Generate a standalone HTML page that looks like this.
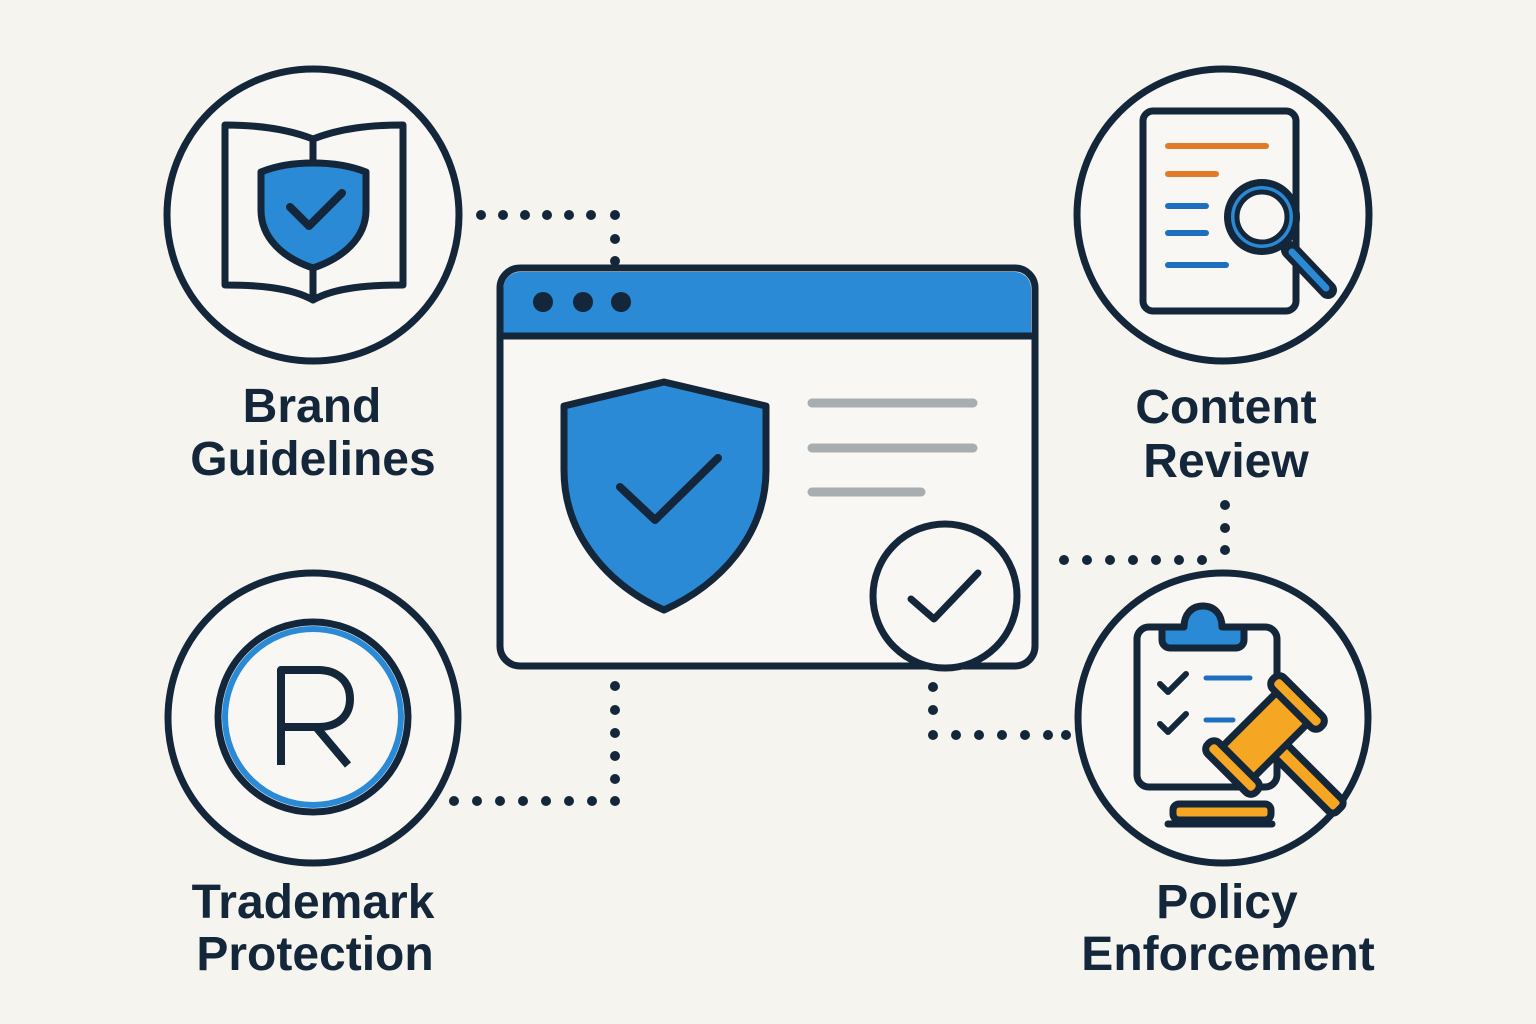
<!DOCTYPE html>
<html><head><meta charset="utf-8"><style>
html,body{margin:0;padding:0;background:#f6f4ef;}
svg{display:block}
text{font-family:"Liberation Sans",sans-serif;font-weight:bold;fill:#13263a;}
</style></head><body>
<svg width="1536" height="1024" viewBox="0 0 1536 1024">
<rect width="1536" height="1024" fill="#f6f4ef"/>
<g fill="#13263a">
<!-- brand connector -->
<g id="d">
<circle cx="481" cy="215" r="5"/><circle cx="503" cy="215" r="5"/><circle cx="525" cy="215" r="5"/><circle cx="547" cy="215" r="5"/><circle cx="569" cy="215" r="5"/><circle cx="591" cy="215" r="5"/><circle cx="615" cy="215" r="5"/><circle cx="615" cy="239" r="5"/><circle cx="615" cy="261" r="5"/>
</g>
<!-- trademark connector -->
<circle cx="615" cy="686" r="5"/><circle cx="615" cy="710" r="5"/><circle cx="615" cy="733" r="5"/><circle cx="615" cy="756" r="5"/><circle cx="615" cy="779" r="5"/><circle cx="615" cy="801" r="5"/>
<circle cx="592" cy="801" r="5"/><circle cx="569" cy="801" r="5"/><circle cx="546" cy="801" r="5"/><circle cx="523" cy="801" r="5"/><circle cx="500" cy="801" r="5"/><circle cx="477" cy="801" r="5"/><circle cx="454" cy="801" r="5"/>
<!-- content connector -->
<circle cx="1225" cy="505" r="5"/><circle cx="1225" cy="528" r="5"/><circle cx="1225" cy="550" r="5"/>
<circle cx="1202" cy="560" r="5"/><circle cx="1179" cy="560" r="5"/><circle cx="1156" cy="560" r="5"/><circle cx="1133" cy="560" r="5"/><circle cx="1110" cy="560" r="5"/><circle cx="1087" cy="560" r="5"/><circle cx="1064" cy="560" r="5"/>
<!-- policy connector -->
<circle cx="933" cy="687" r="5"/><circle cx="933" cy="710" r="5"/><circle cx="933" cy="735" r="5"/>
<circle cx="956" cy="735" r="5"/><circle cx="979" cy="735" r="5"/><circle cx="1002" cy="735" r="5"/><circle cx="1025" cy="735" r="5"/><circle cx="1048" cy="735" r="5"/><circle cx="1066" cy="735" r="5"/>
</g>

<g stroke="#13263a" stroke-width="7" fill="#f8f7f3">
<circle cx="313" cy="215" r="146"/>
<circle cx="1223" cy="215" r="146"/>
<circle cx="313" cy="718" r="145"/>
<circle cx="1223" cy="718" r="145"/>
</g>

<!-- browser -->
<rect x="500" y="268" width="535" height="398" rx="20" fill="#f8f7f3" stroke="#13263a" stroke-width="7"/>
<path d="M503.5 335 V288 a16 16 0 0 1 16 -16 H1015 a16 16 0 0 1 16 16 V335 Z" fill="#2a8ad6"/>
<line x1="503" y1="336" x2="1032" y2="336" stroke="#13263a" stroke-width="7"/>
<circle cx="543" cy="302" r="10" fill="#13263a"/><circle cx="583" cy="302" r="10" fill="#13263a"/><circle cx="621" cy="302" r="10" fill="#13263a"/>
<path d="M564 406 L664 382 L766 406 L766 470 C766 535 720 585 664 610 C608 585 564 535 564 470 Z" fill="#2a8ad6" stroke="#13263a" stroke-width="7" stroke-linejoin="round"/>
<polyline points="620,487 655,520 718,458" fill="none" stroke="#13263a" stroke-width="8" stroke-linecap="round" stroke-linejoin="round"/>
<g stroke="#a8adb0" stroke-width="9" stroke-linecap="round">
<line x1="812" y1="403" x2="973" y2="403"/><line x1="812" y1="448" x2="973" y2="448"/><line x1="812" y1="492" x2="921" y2="492"/>
</g>
<circle cx="945" cy="596" r="72" fill="#f8f7f3" stroke="#13263a" stroke-width="7"/>
<polyline points="911,599 934,619 978,573" fill="none" stroke="#13263a" stroke-width="7" stroke-linecap="round" stroke-linejoin="round"/>

<!-- brand icon: book + shield -->
<g fill="none" stroke="#13263a" stroke-width="7" stroke-linejoin="round" stroke-linecap="round">
<path d="M313 139 C285 128 255 125 225 125 V285 C255 285 290 287 313 300 C336 287 371 285 403 285 V125 C371 125 341 128 313 139 Z" fill="#f8f7f3"/>
<line x1="313" y1="139" x2="313" y2="160"/><line x1="313" y1="270" x2="313" y2="300"/>
<path d="M261 172 C290 160 336 160 366 172 V210 C366 238 343 258 313 268 C283 258 261 238 261 210 Z" fill="#2a8ad6"/>
<polyline points="290,207 309,226 342,193" stroke-width="8"/>
</g>

<!-- content review icon -->
<g stroke-linecap="round">
<rect x="1143" y="111" width="153" height="200" rx="10" fill="#f8f7f3" stroke="#13263a" stroke-width="7"/>
<g stroke-width="6"><line x1="1168" y1="146" x2="1266" y2="146" stroke="#e07b2a"/><line x1="1168" y1="174" x2="1216" y2="174" stroke="#e07b2a"/>
<line x1="1168" y1="206" x2="1206" y2="206" stroke="#1f6fc0"/><line x1="1168" y1="233" x2="1206" y2="233" stroke="#1f6fc0"/><line x1="1168" y1="265" x2="1226" y2="265" stroke="#1f6fc0"/></g>
<line x1="1290" y1="250" x2="1328" y2="290" stroke="#13263a" stroke-width="18"/>
<line x1="1292" y1="252" x2="1326" y2="288" stroke="#2a8ad6" stroke-width="7"/>
<circle cx="1262" cy="217" r="38" fill="#13263a"/>
<circle cx="1262" cy="217" r="31" fill="#2a8ad6"/>
<circle cx="1262" cy="217" r="25" fill="#f8f7f3" stroke="#13263a" stroke-width="5"/>
</g>

<!-- trademark icon -->
<circle cx="313" cy="717" r="95" fill="none" stroke="#13263a" stroke-width="7"/>
<circle cx="313" cy="717" r="88" fill="none" stroke="#2a8ad6" stroke-width="6"/>
<path d="M281 765 V670 H318 C338 670 350 682 350 699 C350 716 338 727 318 727 H281 M316 727 L348 765" fill="none" stroke="#13263a" stroke-width="8" stroke-linejoin="round"/>

<!-- policy icon -->
<g stroke="#13263a" stroke-width="7" stroke-linejoin="round" stroke-linecap="round">
<rect x="1137" y="627" width="140" height="160" rx="12" fill="#f8f7f3"/>
<path d="M1162 627 V640 a8 8 0 0 0 8 8 H1236 a8 8 0 0 0 8 -8 V627 H1222 C1222 615 1215 606 1203 606 C1191 606 1184 615 1184 627 Z" fill="#2a8ad6"/>
<polyline points="1160,684 1168,692 1186,674" fill="none" stroke-width="6"/>
<polyline points="1160,724 1168,732 1186,714" fill="none" stroke-width="6"/>
<rect x="1173" y="804" width="98" height="16" rx="6" fill="#f5a623"/>
<line x1="1168" y1="824" x2="1272" y2="824" stroke-width="7"/>
<g transform="translate(1265,735) rotate(-45)">
<rect x="-9" y="10" width="18" height="95" rx="6" fill="#f5a623"/>
<rect x="-45" y="-22" width="90" height="44" fill="#f5a623"/>
<rect x="-54" y="-34" width="16" height="68" rx="7" fill="#f5a623"/>
<rect x="38" y="-34" width="16" height="68" rx="7" fill="#f5a623"/>
</g>
</g>
<g stroke="#1f6fc0" stroke-width="5" stroke-linecap="round"><line x1="1206" y1="678" x2="1250" y2="678"/><line x1="1206" y1="720" x2="1233" y2="720"/></g>

<!-- labels -->
<g font-size="48" text-anchor="middle">
<text x="312" y="422">Brand</text><text x="313" y="475">Guidelines</text>
<text x="1226" y="423">Content</text><text x="1226" y="477">Review</text>
<text x="313" y="918">Trademark</text><text x="315" y="970">Protection</text>
<text x="1227" y="918">Policy</text><text x="1228" y="970">Enforcement</text>
</g>
</svg>
</body></html>
